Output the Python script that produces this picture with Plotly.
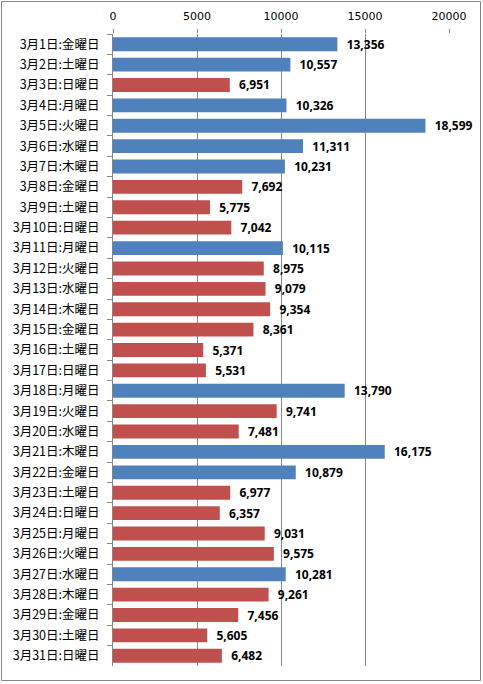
import plotly.graph_objects as go

days = ["金", "土", "日", "月", "火", "水", "木"]
dates = [f"3月{d}日:{days[(d - 1) % 7]}曜日" for d in range(1, 32)]
visitors = [13356, 10557, 6951, 10326, 18599, 11311, 10231, 7692, 5775, 7042,
            10115, 8975, 9079, 9354, 8361, 5371, 5531, 13790, 9741, 7481,
            16175, 10879, 6977, 6357, 9031, 9575, 10281, 9261, 7456, 5605,
            6482]
x_ticks = [0, 5000, 10000, 15000, 20000]

blue = "#4F81BD"
red = "#C0504D"
colors = [blue if v >= 10000 else red for v in visitors]

fig = go.Figure(go.Bar(
    y=dates, x=visitors, orientation="h",
    marker=dict(color=colors, line=dict(width=0)),
    width=0.68,
    text=[f"<b>  {v:,}</b>" for v in visitors],
    textposition="outside",
    constraintext="none",
    textfont=dict(family="Noto Sans", size=12, color="black"),
    cliponaxis=False,
))

W, H = 483, 684
ml, mr, mt, mb = 113, 34, 34, 18
pw, ph = W - ml - mr, H - mt - mb

fig.update_layout(
    width=W, height=H,
    margin=dict(l=ml, r=mr, t=mt, b=mb, autoexpand=False),
    plot_bgcolor="white", paper_bgcolor="white",
    showlegend=False,
    bargap=0.3,
    xaxis=dict(
        side="top", range=[0, 20000], tickvals=x_ticks,
        ticktext=[str(t) for t in x_ticks],
        showgrid=True, gridcolor="#868686", gridwidth=1,
        zeroline=False, showline=False,
        ticks="outside", ticklen=4, tickcolor="#868686",
        ticklabelstandoff=5,
        tickfont=dict(family="DejaVu Sans", size=11, color="black"),
    ),
    yaxis=dict(
        autorange="reversed",
        showline=True, linecolor="#868686", linewidth=1,
        ticks="outside", ticklen=5, tickcolor="#868686",
        tickson="boundaries",
        ticklabelstandoff=10,
        tickfont=dict(family="Noto Sans CJK JP", size=12.5, color="black"),
    ),
    shapes=[dict(
        type="rect", xref="paper", yref="paper",
        x0=(1.5 - ml) / pw, x1=(W - 2.5 - ml) / pw,
        y0=-(mb - 3.5) / ph, y1=1 + (mt - 1.5) / ph,
        line=dict(color="#868686", width=1),
    )],
)

# page has a default body margin; drop it so the chart sits at 0,0
fig.write_html("out.html", config={"displayModeBar": False},
               post_script="document.body.style.margin='0';")
